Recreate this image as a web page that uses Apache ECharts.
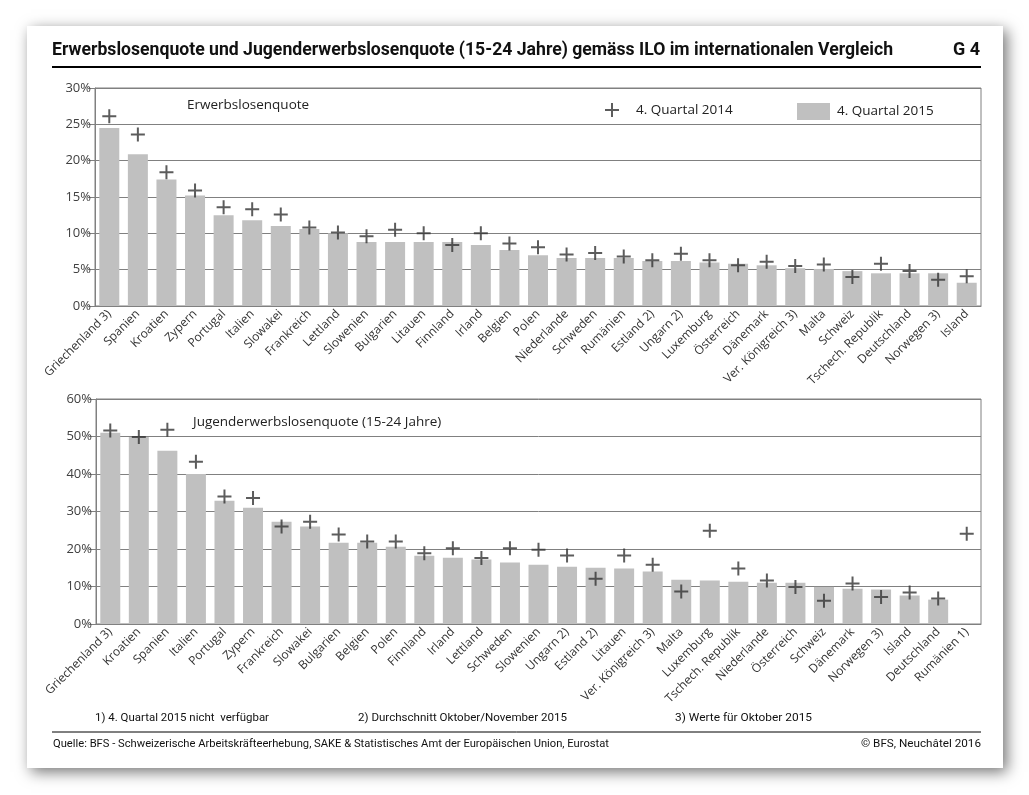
<!DOCTYPE html>
<html>
<head>
<meta charset="utf-8">
<script src="https://cdn.jsdelivr.net/npm/echarts@6/dist/echarts.min.js"></script>
<style>
html,body{margin:0;padding:0;background:#fff;}
#c{width:1029px;height:795px;}
</style>
</head>
<body>
<div id="c"></div>
<script>
// ---- Data ----
const catsTop = ['Griechenland 3)','Spanien','Kroatien','Zypern','Portugal','Italien','Slowakei','Frankreich','Lettland','Slowenien','Bulgarien','Litauen','Finnland','Irland','Belgien','Polen','Niederlande','Schweden','Rumänien','Estland 2)','Ungarn 2)','Luxemburg','Österreich','Dänemark','Ver. Königreich 3)','Malta','Schweiz','Tschech. Republik','Deutschland','Norwegen 3)','Island'];
const top2015 = [24.5,20.9,17.4,15.2,12.5,11.8,11.0,10.6,10.0,8.8,8.8,8.8,8.8,8.4,7.7,7.0,6.6,6.6,6.6,6.2,6.2,6.0,5.8,5.6,5.2,5.1,4.8,4.5,4.5,4.5,3.2];
const top2014 = [26.1,23.6,18.4,15.9,13.6,13.3,12.6,10.8,10.1,9.6,10.5,10.0,8.4,10.0,8.6,8.1,7.1,7.3,6.8,6.3,7.2,6.3,5.6,6.1,5.5,5.7,4.0,5.8,4.8,3.6,4.1];

const catsBottom = ['Griechenland 3)','Kroatien','Spanien','Italien','Portugal','Zypern','Frankreich','Slowakei','Bulgarien','Belgien','Polen','Finnland','Irland','Lettland','Schweden','Slowenien','Ungarn 2)','Estland 2)','Litauen','Ver. Königreich 3)','Malta','Luxemburg','Tschech. Republik','Niederlande','Österreich','Schweiz','Dänemark','Norwegen 3)','Island','Deutschland','Rumänien 1)'];
const bottom2015 = [51.0,49.9,46.2,40.0,32.9,31.0,27.3,26.0,21.7,21.7,20.6,18.2,17.7,17.2,16.4,15.8,15.3,15.0,14.8,14.0,11.8,11.6,11.3,11.0,11.0,9.9,9.4,9.2,7.6,6.5,null];
const bottom2014 = [51.6,49.9,51.8,43.3,34.0,33.6,26.0,27.3,23.9,22.0,22.0,18.9,20.2,17.6,20.2,19.8,18.3,12.1,18.3,15.8,8.7,24.9,14.8,11.6,9.9,6.2,10.8,7.2,8.4,6.8,24.1];

const yTopMax = 30, yTopStep = 5;
const yBottomMax = 60, yBottomStep = 10;

const seriesNames = ['4. Quartal 2014','4. Quartal 2015'];
const titleText = 'Erwerbslosenquote und Jugenderwerbslosenquote (15-24 Jahre) gemäss ILO im internationalen Vergleich';
const footnotes = ['1) 4. Quartal 2015 nicht  verfügbar','2) Durchschnitt Oktober/November 2015','3) Werte für Oktober 2015'];
const sourceText = 'Quelle: BFS - Schweizerische Arbeitskräfteerhebung, SAKE & Statistisches Amt der Europäischen Union, Eurostat';
const copyText = '© BFS, Neuchâtel 2016';

// ---- Styles ----
const FONT = "'Open Sans', 'Noto Sans', sans-serif";
const NARROW = "Roboto, 'Noto Sans', sans-serif";
const GRID_C = '#808080';
const BAR_C = '#c0c0c0';
const CROSS_C = '#333333';
const CROSS = 'path://M6,0h2v6h6v2h-6v6h-2v-6h-6v-2h6z';

const mctx = document.createElement('canvas').getContext('2d');
function fitScale(text, font, target){
  mctx.font = font;
  const w = mctx.measureText(text).width;
  return w > 0 ? target / w : 1;
}
// condensed text element: x = left edge (or right edge if anchorRight), y = vertical middle
function ctext(text, font, x, y, target, anchorRight){
  const s = fitScale(text, font, target);
  return {type:'text', x:x, y:y, scaleX:s, silent:true,
    style:{text:text, font:font, fill:'#111', textAlign: anchorRight ? 'right' : 'left', textVerticalAlign:'middle'}};
}

function xAx(idx, cats){
  return {
    type:'category', gridIndex:idx, data:cats,
    axisLine:{lineStyle:{color:GRID_C}},
    axisTick:{show:false},
    axisLabel:{interval:0, rotate:45, fontSize:12, color:'#333', fontFamily:FONT, margin:6}
  };
}
function yAx(idx, max, step){
  return {
    type:'value', gridIndex:idx, min:0, max:max, interval:step,
    axisLine:{show:true, lineStyle:{color:GRID_C}},
    axisTick:{show:true, length:7, lineStyle:{color:GRID_C}},
    axisLabel:{formatter:'{value}%', fontSize:13, color:'#404040', fontFamily:FONT, margin:4},
    splitLine:{lineStyle:{color:GRID_C}}
  };
}

const TFONT = "bold 19px " + NARROW;
const SFONT = "11px " + NARROW;

const chart = echarts.init(document.getElementById('c'), null, {renderer:'canvas'});
chart.setOption({
  animation:false,
  backgroundColor:'#fff',
  grid:[
    {left:95, top:88, width:886, height:218, show:true, borderColor:GRID_C, borderWidth:1},
    {left:96, top:399, width:885, height:225, show:true, borderColor:GRID_C, borderWidth:1}
  ],
  xAxis:[xAx(0,catsTop), xAx(1,catsBottom)],
  yAxis:[yAx(0,yTopMax,yTopStep), yAx(1,yBottomMax,yBottomStep)],
  legend:[
    {data:[{name:seriesNames[0], icon:CROSS}], left:600, top:98, itemWidth:14, itemHeight:14,
     textStyle:{fontSize:13.5, color:'#222', fontFamily:FONT, padding:[0,0,0,12]}},
    {data:[{name:seriesNames[1], icon:'rect'}], left:792, top:98, itemWidth:33, itemHeight:17,
     textStyle:{fontSize:13.5, color:'#222', fontFamily:FONT, padding:[0,0,0,2]}}
  ],
  series:[
    {name:seriesNames[1], type:'bar', xAxisIndex:0, yAxisIndex:0, data:top2015,
     itemStyle:{color:BAR_C}, barCategoryGap:'30%'},
    {name:seriesNames[0], type:'scatter', xAxisIndex:0, yAxisIndex:0, data:top2014,
     symbol:CROSS, symbolSize:14, itemStyle:{color:CROSS_C}, z:5},
    {name:seriesNames[1], type:'bar', xAxisIndex:1, yAxisIndex:1, data:bottom2015,
     itemStyle:{color:BAR_C}, barCategoryGap:'30%'},
    {name:seriesNames[0], type:'scatter', xAxisIndex:1, yAxisIndex:1, data:bottom2014,
     symbol:CROSS, symbolSize:14, itemStyle:{color:CROSS_C}, z:5}
  ],
  graphic:[
    {type:'rect', z:-10, silent:true, shape:{x:27, y:26, width:976, height:742},
     style:{fill:'#fff', shadowBlur:14, shadowColor:'rgba(0,0,0,0.55)', shadowOffsetX:4, shadowOffsetY:4}},
    ctext(titleText, TFONT, 52, 50, 841, false),
    ctext('G 4', TFONT, 980, 50, 27, true),
    {type:'line', silent:true, shape:{x1:52, y1:67, x2:981, y2:67}, style:{stroke:'#000', lineWidth:2}},
    {type:'text', left:187, top:98, style:{text:'Erwerbslosenquote', font:"13.5px "+FONT, fill:'#222'}},
    {type:'text', left:193, top:415, style:{text:'Jugenderwerbslosenquote (15-24 Jahre)', font:"13.5px "+FONT, fill:'#222'}},
    ctext(footnotes[0], SFONT, 95, 718, 174, false),
    ctext(footnotes[1], SFONT, 358, 718, 209, false),
    ctext(footnotes[2], SFONT, 675, 718, 137, false),
    {type:'line', silent:true, shape:{x1:52, y1:732, x2:981, y2:732}, style:{stroke:'#000', lineWidth:1}},
    ctext(sourceText, SFONT, 53, 744, 556, false),
    ctext(copyText, SFONT, 981, 744, 120, true)
  ]
});
</script>
</body>
</html>
